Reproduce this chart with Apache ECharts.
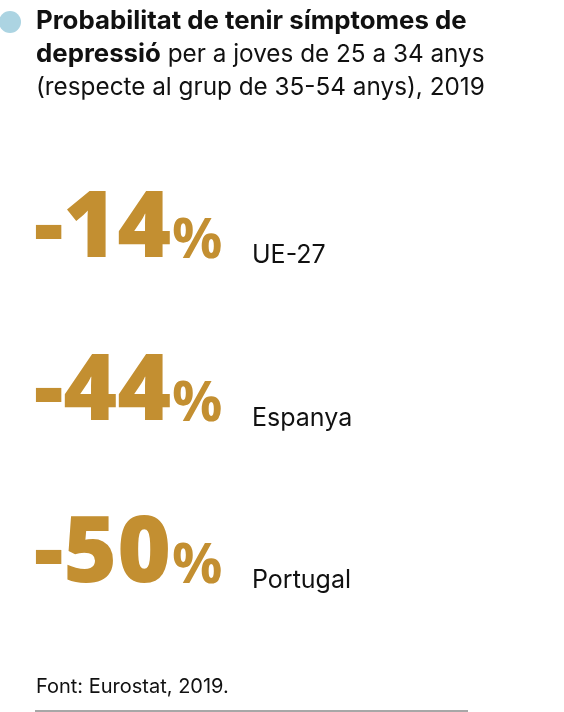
<!DOCTYPE html>
<html>
<head>
<meta charset="utf-8">
<script src="https://cdn.jsdelivr.net/npm/echarts@6/dist/echarts.min.js"></script>
<style>
html,body{margin:0;padding:0;background:#fff;}
#chart{width:564px;height:712px;}
</style>
</head>
<body>
<div id="chart"></div>
<script>
var countries = ['UE-27', 'Espanya', 'Portugal'];
var values = [-14, -44, -50];
var titleBold1 = 'Probabilitat de tenir símptomes de';
var titleBold2 = 'depressió';
var titleRest2 = ' per a joves de 25 a 34 anys';
var titleLine3 = '(respecte al grup de 35-54 anys), 2019';
var sourceText = 'Font: Eurostat, 2019.';

var GOLD = '#c38f31';
var chart = echarts.init(document.getElementById('chart'), null, {renderer: 'canvas'});

var pts = countries.map(function (c, i) { return [0, c, values[i]]; });

chart.setOption({
  backgroundColor: '#ffffff',
  animation: false,
  title: [{
    left: 36, top: 4, padding: 0,
    text: '{b|' + titleBold1 + '}\n{b|' + titleBold2 + '}{r|' + titleRest2 + '}\n{r|' + titleLine3 + '}',
    textStyle: {
      rich: {
        b: {fontFamily: 'Inter', fontWeight: 'bold', fontSize: 25.8, lineHeight: 33.5, color: '#111'},
        r: {fontFamily: 'Inter', fontWeight: 'normal', fontSize: 24.3, lineHeight: 33.5, color: '#111'}
      }
    }
  }, {
    left: 36, top: 677, padding: 0,
    text: sourceText,
    textStyle: {fontFamily: 'Inter', fontWeight: 'normal', fontSize: 20, lineHeight: 20, color: '#111'}
  }],
  graphic: [
    {type: 'circle', shape: {cx: 10, cy: 22, r: 11}, style: {fill: '#acd4e2'}},
    {type: 'line', shape: {x1: 35, y1: 711, x2: 468, y2: 711}, style: {stroke: '#8a8a8a', lineWidth: 1.5}}
  ],
  grid: {left: 35, right: 20, top: 180, height: 487.5},
  xAxis: {type: 'value', min: 0, max: 1, show: false},
  yAxis: {type: 'category', data: countries, inverse: true, show: false},
  series: [{
    type: 'scatter',
    symbolSize: 0,
    itemStyle: {opacity: 1},
    data: pts,
    label: {
      show: true,
      position: [-1, 16],
      align: 'left',
      verticalAlign: 'bottom',
      formatter: function (p) { return '{n|' + p.value[2] + '}{p|%}'; },
      rich: {
        n: {fontFamily: 'Open Sans', fontWeight: 800, fontSize: 92, lineHeight: 92, color: GOLD, verticalAlign: 'bottom'},
        p: {fontFamily: 'Open Sans', fontWeight: 700, fontSize: 56, lineHeight: 56, color: GOLD, verticalAlign: 'bottom', padding: [0, 0, 7, 1]}
      }
    }
  }, {
    type: 'scatter',
    symbolSize: 0,
    itemStyle: {opacity: 1},
    data: pts,
    label: {
      show: true,
      position: [217, 7],
      align: 'left',
      verticalAlign: 'bottom',
      formatter: function (p) { return p.value[1]; },
      fontFamily: 'Inter', fontSize: 25, lineHeight: 25, color: '#111'
    }
  }]
});
</script>
</body>
</html>
